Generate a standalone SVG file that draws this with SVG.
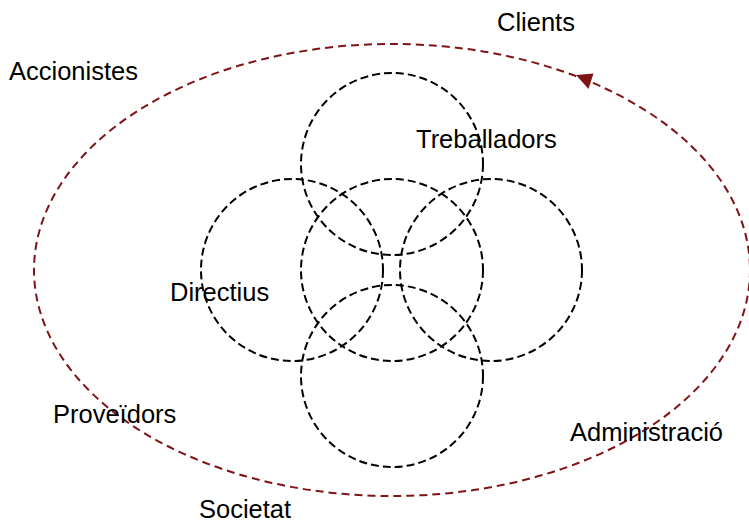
<svg xmlns="http://www.w3.org/2000/svg" width="749" height="524" viewBox="0 0 749 524">
  <style>
    .ring { fill: none; stroke: #000; stroke-width: 2; stroke-dasharray: 8 4; }
    .orbit { fill: none; stroke: #7f1418; stroke-width: 2; stroke-dasharray: 8 5; }
    .head { fill: #7f1418; stroke: none; }
    text { font-family: "Liberation Sans", Arial, sans-serif; font-size: 25.5px; fill: #000; }
  </style>
  <rect width="749" height="524" fill="#fff"/>

  <g id="connectors">
    <ellipse class="orbit" cx="392" cy="270" rx="358" ry="226"/>
    <polygon class="head" points="576,75 593.5,73.5 588.5,89"/>
  </g>

  <g id="treballadors">
    <circle class="ring" cx="392" cy="164" r="91"/>
    <text x="416" y="148">Treballadors</text>
  </g>
  <g id="directius">
    <circle class="ring" cx="292" cy="270" r="91"/>
    <text x="170" y="301">Directius</text>
  </g>
  <g id="centre">
    <circle class="ring" cx="392" cy="270" r="91"/>
  </g>
  <g id="dreta">
    <circle class="ring" cx="491" cy="270" r="91"/>
  </g>
  <g id="inferior">
    <circle class="ring" cx="392" cy="376" r="91"/>
  </g>

  <g id="clients"><text x="497" y="31">Clients</text></g>
  <g id="accionistes"><text x="9" y="80">Accionistes</text></g>
  <g id="proveidors"><text x="53" y="423">Proveïdors</text></g>
  <g id="administracio"><text x="570" y="441">Administració</text></g>
  <g id="societat"><text x="199" y="518">Societat</text></g>
</svg>
